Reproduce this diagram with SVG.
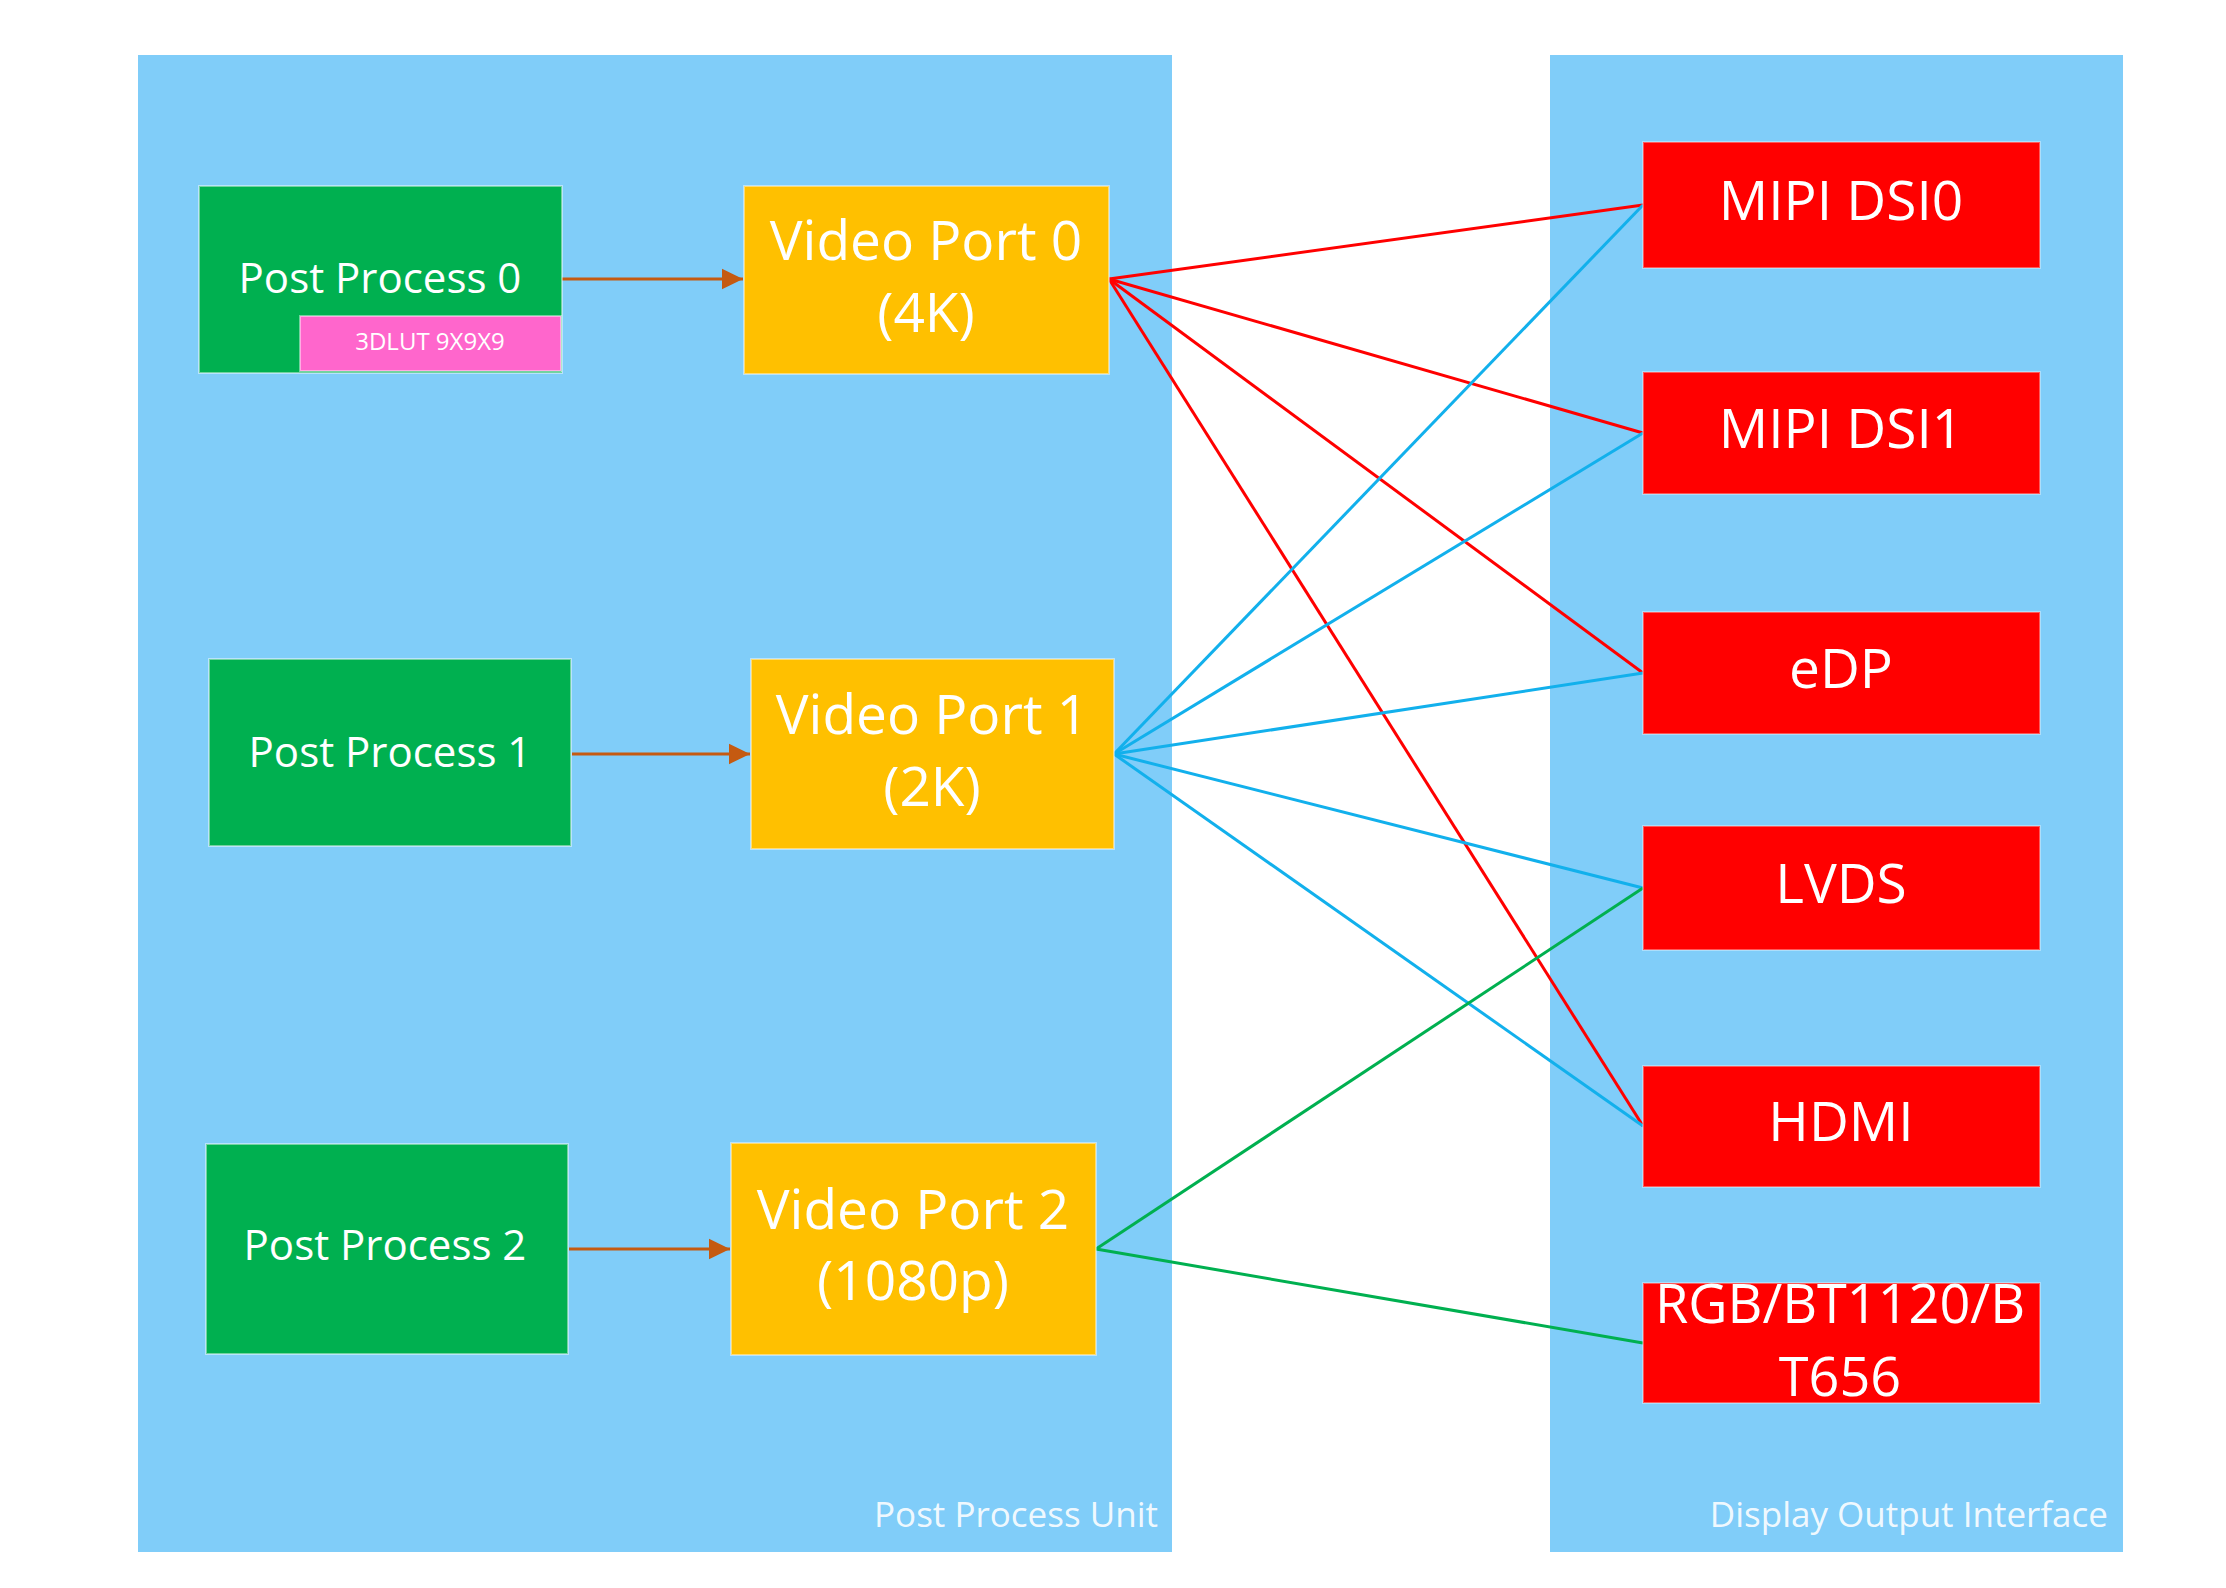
<svg xmlns="http://www.w3.org/2000/svg" width="2226" height="1588" viewBox="0 0 2226 1588">
<style>
text{font-family:"Open Sans","Noto Sans","Liberation Sans",sans-serif;fill:#ffffff;}
.panel{fill:#80CDF9;}
.pp{fill:#00B050;stroke:#ffffff;stroke-opacity:0.45;stroke-width:2;}
.vp{fill:#FFC000;stroke:#ffffff;stroke-opacity:0.45;stroke-width:2;}
.out{fill:#FF0000;stroke:#ffffff;stroke-opacity:0.35;stroke-width:2;}
.lut{fill:#FF66CC;stroke:#ffffff;stroke-opacity:0.45;stroke-width:2;}
.t42{font-size:42px;text-anchor:middle;}
.t55{font-size:55px;text-anchor:middle;}
.t54{font-size:54px;text-anchor:middle;}
.lbl{font-size:35px;text-anchor:end;fill-opacity:0.9;}
.arrow{stroke:#C55A11;stroke-width:3;fill:none;marker-end:url(#ah);}
.red{stroke:#FF0000;stroke-width:3;fill:none;}
.blue{stroke:#12B0EC;stroke-width:3;fill:none;}
.green{stroke:#00B050;stroke-width:3;fill:none;}
</style>
<defs>
<marker id="ah" markerWidth="8" markerHeight="8" refX="7" refY="4" orient="auto" markerUnits="strokeWidth">
<path d="M0,0.6 L7,4 L0,7.4 Z" fill="#C55A11"/>
</marker>
</defs>
<rect width="2226" height="1588" fill="#ffffff"/>
<g id="post-process-unit">
<rect class="panel" x="138" y="55" width="1034" height="1497"/>
<text class="lbl" x="1158" y="1527">Post Process Unit</text>
</g>
<g id="display-output-interface">
<rect class="panel" x="1550" y="55" width="573" height="1497"/>
<text class="lbl" x="2108" y="1527">Display Output Interface</text>
</g>
<g id="connectors">
<line class="arrow" x1="562" y1="279" x2="743" y2="279"/>
<line class="arrow" x1="572" y1="754" x2="750" y2="754"/>
<line class="arrow" x1="569" y1="1249" x2="730" y2="1249"/>
<line class="red" x1="1109" y1="279" x2="1643" y2="205"/>
<line class="red" x1="1109" y1="279" x2="1643" y2="433"/>
<line class="red" x1="1109" y1="279" x2="1643" y2="673"/>
<line class="red" x1="1109" y1="279" x2="1643" y2="1126"/>
<line class="blue" x1="1114" y1="754" x2="1643" y2="205"/>
<line class="blue" x1="1114" y1="754" x2="1643" y2="433"/>
<line class="blue" x1="1114" y1="754" x2="1643" y2="673"/>
<line class="blue" x1="1114" y1="754" x2="1643" y2="888"/>
<line class="blue" x1="1114" y1="754" x2="1643" y2="1126"/>
<line class="green" x1="1096" y1="1249" x2="1643" y2="888"/>
<line class="green" x1="1096" y1="1249" x2="1643" y2="1343"/>
</g>
<g id="pp0">
<rect class="pp" x="199" y="186" width="363" height="187"/>
<text class="t42" x="380" y="293">Post Process 0</text>
</g>
<g id="lut">
<rect class="lut" x="300" y="316" width="261" height="55"/>
<text x="430" y="350" style="font-size:24px;text-anchor:middle;">3DLUT 9X9X9</text>
</g>
<g id="pp1">
<rect class="pp" x="209" y="659" width="362" height="187"/>
<text class="t42" x="390" y="767">Post Process 1</text>
</g>
<g id="pp2">
<rect class="pp" x="206" y="1144" width="362" height="210"/>
<text class="t42" x="385" y="1260">Post Process 2</text>
</g>
<g id="vp0">
<rect class="vp" x="744" y="186" width="365" height="188"/>
<text class="t55" x="926" y="260">Video Port 0</text>
<text class="t55" x="926" y="332">(4K)</text>
</g>
<g id="vp1">
<rect class="vp" x="751" y="659" width="363" height="190"/>
<text class="t55" x="932" y="734">Video Port 1</text>
<text class="t55" x="932" y="806">(2K)</text>
</g>
<g id="vp2">
<rect class="vp" x="731" y="1143" width="365" height="212"/>
<text class="t55" x="913" y="1229">Video Port 2</text>
<text class="t55" x="913" y="1300">(1080p)</text>
</g>
<g id="mipi-dsi0">
<rect class="out" x="1643" y="142" width="397" height="126"/>
<text class="t55" x="1841" y="220">MIPI DSI0</text>
</g>
<g id="mipi-dsi1">
<rect class="out" x="1643" y="372" width="397" height="122"/>
<text class="t55" x="1841" y="448">MIPI DSI1</text>
</g>
<g id="edp">
<rect class="out" x="1643" y="612" width="397" height="122"/>
<text class="t55" x="1841" y="688">eDP</text>
</g>
<g id="lvds">
<rect class="out" x="1643" y="826" width="397" height="124"/>
<text class="t55" x="1841" y="903">LVDS</text>
</g>
<g id="hdmi">
<rect class="out" x="1643" y="1066" width="397" height="121"/>
<text class="t55" x="1841" y="1141">HDMI</text>
</g>
<g id="rgb">
<rect class="out" x="1643" y="1283" width="397" height="120"/>
<text class="t54" x="1840" y="1323">RGB/BT1120/B</text>
<text class="t54" x="1840" y="1396">T656</text>
</g>
</svg>
